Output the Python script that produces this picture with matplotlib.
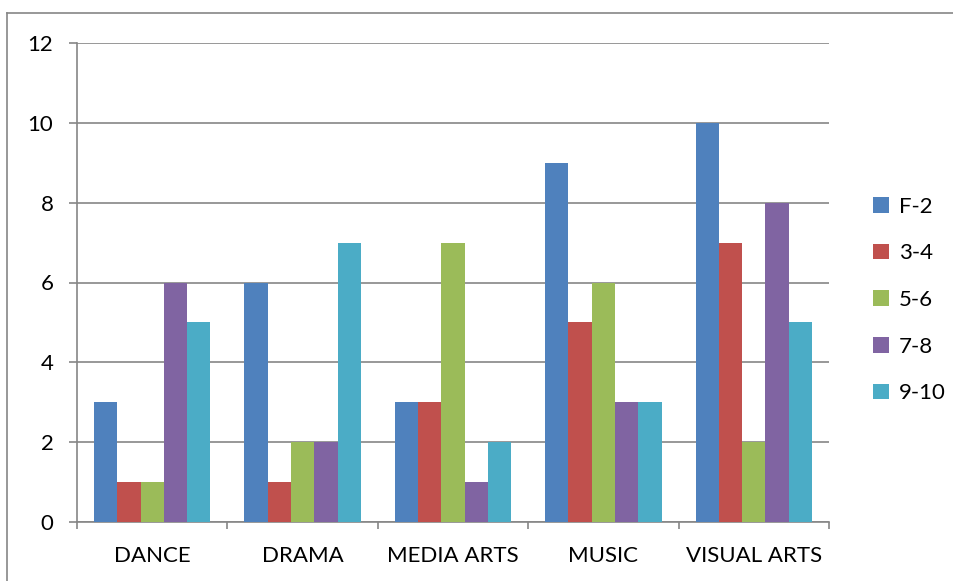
import matplotlib
matplotlib.use("Agg")
import matplotlib.pyplot as plt
from matplotlib.lines import Line2D
import numpy as np

categories = ["DANCE", "DRAMA", "MEDIA ARTS", "MUSIC", "VISUAL ARTS"]
series_names = ["F-2", "3-4", "5-6", "7-8", "9-10"]
f_2 = [3, 6, 3, 9, 10]
y3_4 = [1, 1, 3, 5, 7]
y5_6 = [1, 2, 7, 6, 2]
y7_8 = [6, 2, 1, 3, 8]
y9_10 = [5, 7, 2, 3, 5]
series_values = [f_2, y3_4, y5_6, y7_8, y9_10]
colors = ["#4F81BD", "#C0504D", "#9BBB59", "#8064A2", "#4BACC6"]
y_ticks = [0, 2, 4, 6, 8, 10, 12]

plt.rcParams["font.family"] = ["Lato", "DejaVu Sans"]
grid_gray = "#868686"
fs = 16

fig = plt.figure(figsize=(9.54, 5.81), dpi=100)
ax = fig.add_axes([77 / 954, 59 / 581, (829 - 77) / 954, (522 - 43) / 581])

x = np.arange(len(categories))
n = len(series_names)
bar_w = 0.155
for i, (name, vals, c) in enumerate(zip(series_names, series_values, colors)):
    offs = (i - (n - 1) / 2) * bar_w
    ax.bar(x + offs, vals, width=bar_w, color=c, label=name, zorder=3)

ax.set_xlim(-0.5, len(categories) - 0.5)
ax.set_ylim(0, 12)
ax.set_yticks(y_ticks)
ax.set_yticklabels([str(v) for v in y_ticks], fontsize=fs)
ax.yaxis.grid(True, color=grid_gray, linewidth=1.2, zorder=0)
ax.tick_params(axis="y", length=6, width=1.2, color=grid_gray, pad=11)

# category boundaries carry the tick marks, names sit at the centres
ax.set_xticks(np.arange(len(categories) + 1) - 0.5)
ax.set_xticklabels([])
ax.set_xticks(x, minor=True)
ax.set_xticklabels(categories, minor=True, fontsize=fs)
ax.tick_params(axis="x", which="major", length=5, width=1.2, color=grid_gray)
ax.tick_params(axis="x", which="minor", length=0, pad=17)

for side in ["top", "right"]:
    ax.spines[side].set_visible(False)
for side in ["left", "bottom"]:
    ax.spines[side].set_color(grid_gray)
    ax.spines[side].set_linewidth(1.2)

leg = fig.legend(loc="center left", bbox_to_anchor=(853 / 954, 1 - 300 / 581),
                 frameon=False, fontsize=fs, handlelength=0.7, handleheight=0.7,
                 handletextpad=0.45, labelspacing=1.2)

# outer chart border
fig.add_artist(Line2D([7 / 954, 7 / 954], [0, 1 - 13 / 581], transform=fig.transFigure,
                      color=grid_gray, linewidth=1.2))
fig.add_artist(Line2D([7 / 954, 1], [1 - 13 / 581, 1 - 13 / 581], transform=fig.transFigure,
                      color=grid_gray, linewidth=1.2))

fig.savefig("out.png", dpi=100)
